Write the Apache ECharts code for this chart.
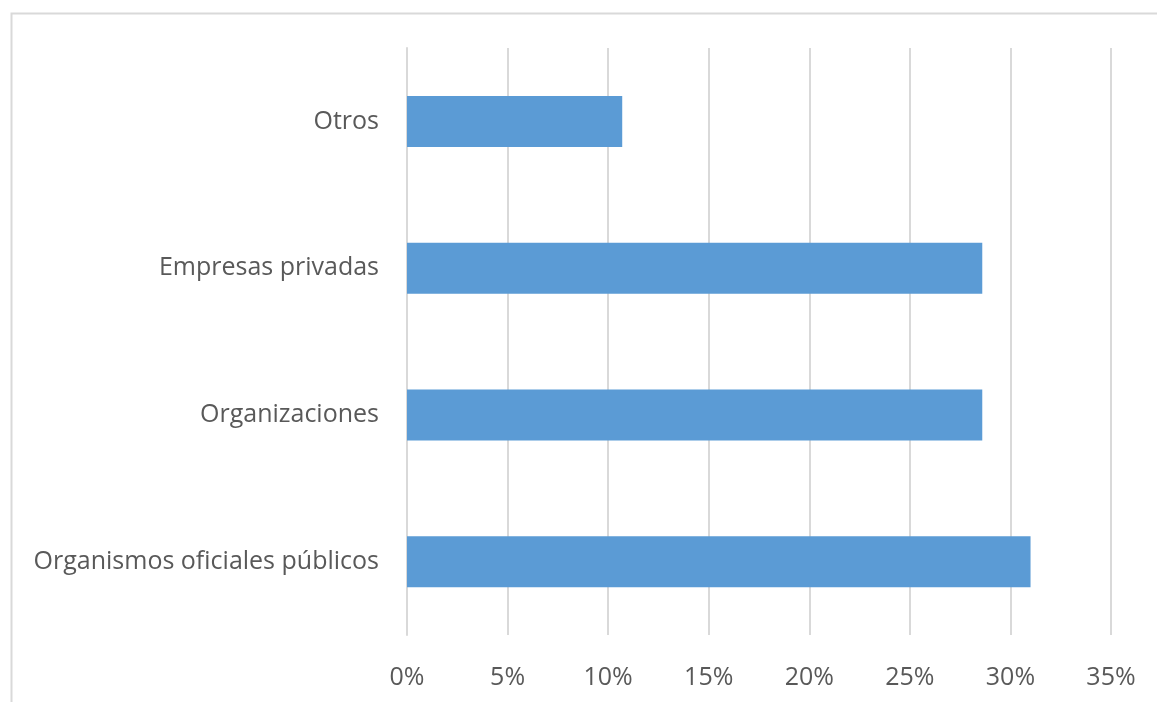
<!DOCTYPE html>
<html>
<head>
<meta charset="utf-8">
<title>Barras</title>
<script src="https://cdn.jsdelivr.net/npm/echarts@6/dist/echarts.min.js"></script>
<style>
  html, body { margin: 0; padding: 0; background: #fff; }
  #main { width: 1157px; height: 702px; }
</style>
</head>
<body>
<div id="main"></div>
<script type="text/javascript">
// categorías, de abajo hacia arriba
var categorias = ['Organismos oficiales públicos', 'Organizaciones', 'Empresas privadas', 'Otros'];
var valores = [31.0, 28.6, 28.6, 10.7];
var ejeMin = 0, ejeMax = 35, ejePaso = 5;

var chart = echarts.init(document.getElementById('main'));
chart.setOption({
    backgroundColor: '#ffffff',
    animation: false,
    textStyle: { fontFamily: 'Open Sans' },
    graphic: [{
        // marco gris del gráfico (cortado a derecha y abajo)
        type: 'rect',
        shape: { x: 11.5, y: 13.5, width: 1300, height: 900 },
        style: { fill: 'none', stroke: '#d9d9d9', lineWidth: 2 },
        silent: true
    }],
    grid: { left: 407, right: 46, top: 48, bottom: 67 },
    xAxis: {
        type: 'value',
        min: ejeMin,
        max: ejeMax,
        interval: ejePaso,
        axisLine: { show: false },
        axisTick: { show: false },
        splitLine: { show: true, lineStyle: { color: '#d9d9d9', width: 2 } },
        axisLabel: {
            color: '#595959',
            fontSize: 25,
            margin: 30,
            formatter: '{value}%'
        }
    },
    yAxis: {
        type: 'category',
        data: categorias,
        axisLine: { show: true, lineStyle: { color: '#d9d9d9', width: 2 } },
        axisTick: { show: false },
        axisLabel: { color: '#595959', fontSize: 25, margin: 28, lineHeight: 25, padding: [5, 0, 0, 0] }
    },
    series: [{
        type: 'bar',
        data: valores,
        barWidth: 51,
        itemStyle: { color: '#5b9bd5' }
    }]
});
</script>
</body>
</html>
